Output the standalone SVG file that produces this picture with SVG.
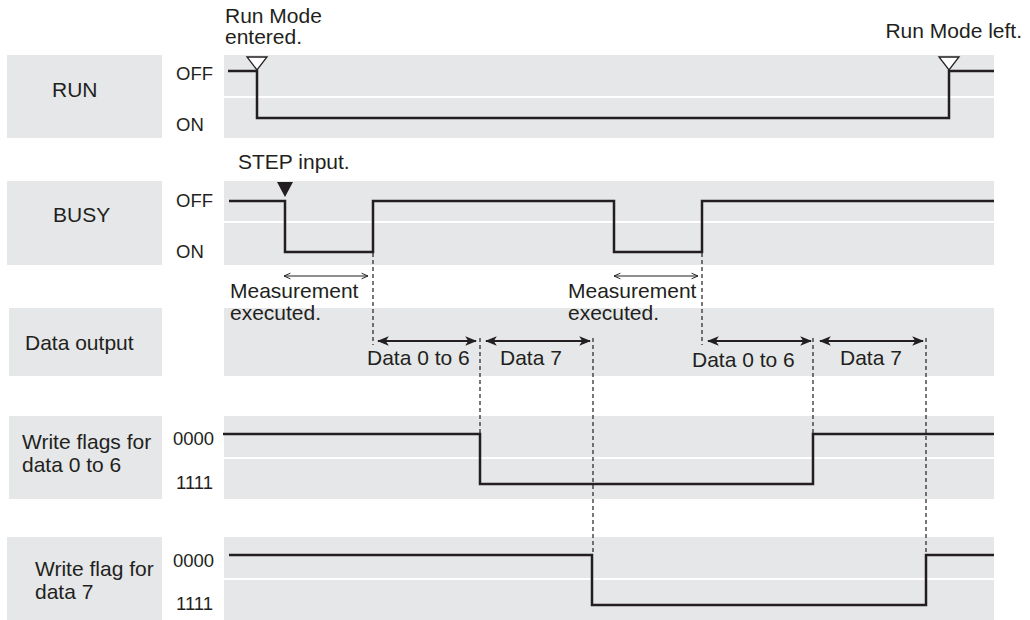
<svg xmlns="http://www.w3.org/2000/svg" width="1030" height="620" viewBox="0 0 1030 620">
<defs>
<style>
text{font-family:"Liberation Sans",Arial,sans-serif;font-size:21px;fill:#231f20}
text.lv{font-size:18.5px}
.box{fill:#e6e7e8}
.sep{stroke:#fff;stroke-width:2}
.sig{fill:none;stroke:#231f20;stroke-width:2.5}
.dash{fill:none;stroke:#231f20;stroke-width:1.2;stroke-dasharray:4 3}
.meas{fill:none;stroke:#231f20;stroke-width:1.2;marker-start:url(#ma);marker-end:url(#ma)}
.darr{fill:none;stroke:#231f20;stroke-width:2.2;marker-start:url(#da);marker-end:url(#da)}
</style>
<marker id="ma" viewBox="0 0 10 10" refX="9" refY="5" markerWidth="8" markerHeight="8" markerUnits="userSpaceOnUse" orient="auto-start-reverse"><path d="M1,1.5 L9,5 L1,8.5" fill="none" stroke="#231f20" stroke-width="1.2"/></marker>
<marker id="da" viewBox="0 0 10 10" refX="9" refY="5" markerWidth="12" markerHeight="12" markerUnits="userSpaceOnUse" orient="auto-start-reverse"><path d="M0,1 L10,5 L0,9 L2.5,5 Z" fill="#231f20"/></marker>
</defs>

<g id="row-run">
<rect class="box" x="7" y="55" width="155" height="83"/>
<rect class="box" x="224" y="55" width="770" height="83"/>
<line class="sep" x1="224" y1="97" x2="994" y2="97"/>
<text x="52" y="97">RUN</text>
<text class="lv" x="176" y="80">OFF</text>
<text class="lv" x="176" y="131">ON</text>
<path class="sig" d="M228,71 H257 V118 H949 V71 H994"/>
<path d="M247,57 H267 L257,70 Z" fill="#fff" stroke="#231f20" stroke-width="1.3"/>
<path d="M939,57 H959 L949,70 Z" fill="#fff" stroke="#231f20" stroke-width="1.3"/>
<text x="225" y="23">Run Mode</text>
<text x="225" y="44">entered.</text>
<text x="1022" y="38" text-anchor="end">Run Mode left.</text>
</g>

<g id="row-busy">
<rect class="box" x="7" y="181" width="155" height="84"/>
<rect class="box" x="224" y="181" width="770" height="84"/>
<line class="sep" x1="224" y1="222" x2="994" y2="222"/>
<text x="53" y="222">BUSY</text>
<text class="lv" x="176" y="207">OFF</text>
<text class="lv" x="176" y="258">ON</text>
<path class="sig" d="M229,201 H285 V252 H373 V201 H614 V252 H702 V201 H994"/>
<path d="M277,182 H293 L285,197 Z" fill="#231f20"/>
<text x="238" y="169">STEP input.</text>
</g>

<g id="row-data">
<rect class="box" x="9" y="308" width="153" height="68"/>
<rect class="box" x="224" y="308" width="770" height="68"/>
<text x="25" y="350">Data output</text>
</g>

<g id="row-flags06">
<rect class="box" x="9" y="416" width="153" height="83"/>
<rect class="box" x="224" y="416" width="770" height="83"/>
<line class="sep" x1="224" y1="458" x2="994" y2="458"/>
<text x="22" y="449">Write flags for</text>
<text x="22" y="472">data 0 to 6</text>
<text class="lv" x="173" y="445">0000</text>
<text class="lv" x="176" y="489">1111</text>
<path class="sig" d="M223,434 H480 V484 H813 V434 H994"/>
</g>

<g id="row-flag7">
<rect class="box" x="7" y="537" width="155" height="83"/>
<rect class="box" x="224" y="537" width="770" height="83"/>
<line class="sep" x1="224" y1="579" x2="994" y2="579"/>
<text x="35" y="576">Write flag for</text>
<text x="35" y="599">data 7</text>
<text class="lv" x="173" y="567">0000</text>
<text class="lv" x="176" y="610">1111</text>
<path class="sig" d="M229,555 H592 V605 H926 V555 H994"/>
</g>

<g id="connectors">
<line class="dash" x1="373" y1="253" x2="373" y2="345"/>
<line class="dash" x1="702" y1="253" x2="702" y2="345"/>
<line class="dash" x1="480" y1="338" x2="480" y2="433"/>
<line class="dash" x1="813" y1="338" x2="813" y2="433"/>
<line class="dash" x1="593" y1="338" x2="593" y2="554"/>
<line class="dash" x1="926" y1="338" x2="926" y2="554"/>
<line class="meas" x1="284" y1="276" x2="368" y2="276"/>
<line class="meas" x1="614" y1="276" x2="698" y2="276"/>
<line class="darr" x1="378" y1="341" x2="476" y2="341"/>
<line class="darr" x1="486" y1="341" x2="590" y2="341"/>
<line class="darr" x1="708" y1="341" x2="811" y2="341"/>
<line class="darr" x1="820" y1="341" x2="923" y2="341"/>
<text x="230" y="298">Measurement</text>
<text x="230" y="320">executed.</text>
<text x="568" y="298">Measurement</text>
<text x="568" y="320">executed.</text>
<text x="367" y="365">Data 0 to 6</text>
<text x="500" y="365">Data 7</text>
<text x="692" y="367">Data 0 to 6</text>
<text x="840" y="365">Data 7</text>
</g>
</svg>
